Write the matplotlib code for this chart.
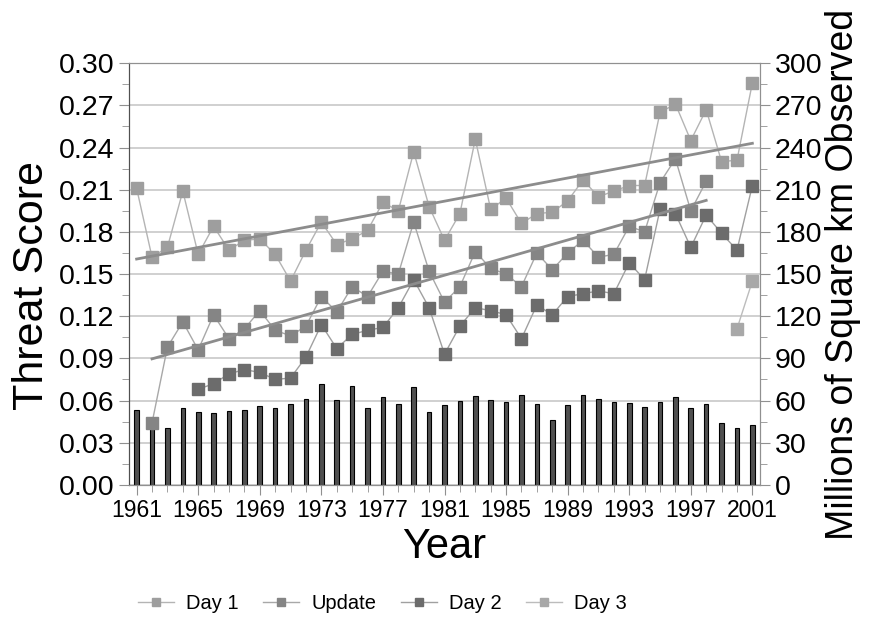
import matplotlib.pyplot as plt
import numpy as np
from matplotlib.ticker import MultipleLocator

plt.rcParams['font.family'] = ['Liberation Sans', 'DejaVu Sans']

# Data
years = np.arange(1961, 2002)

day1 = [0.211, 0.162, 0.169, 0.209, 0.164, 0.184, 0.167, 0.174, 0.175, 0.164,
        0.145, 0.167, 0.187, 0.171, 0.175, 0.181, 0.201, 0.195, 0.237, 0.198,
        0.174, 0.193, 0.246, 0.196, 0.204, 0.186, 0.193, 0.194, 0.202, 0.217,
        0.205, 0.209, 0.213, 0.213, 0.265, 0.271, 0.245, 0.267, 0.230, 0.231,
        0.286]

update_years = np.arange(1962, 1999)
update = [0.044, 0.098, 0.116, 0.096, 0.121, 0.104, 0.111, 0.124, 0.110, 0.106,
          0.113, 0.134, 0.123, 0.141, 0.134, 0.152, 0.150, 0.187, 0.152, 0.130,
          0.141, 0.166, 0.154, 0.150, 0.141, 0.165, 0.153, 0.165, 0.174, 0.162,
          0.164, 0.184, 0.180, 0.215, 0.232, 0.195, 0.216]

day2_years = np.arange(1965, 2002)
day2 = [0.068, 0.072, 0.079, 0.082, 0.080, 0.075, 0.076, 0.091, 0.114, 0.097,
        0.107, 0.110, 0.112, 0.126, 0.146, 0.126, 0.093, 0.113, 0.126, 0.124,
        0.121, 0.104, 0.128, 0.121, 0.134, 0.136, 0.138, 0.136, 0.158, 0.146,
        0.196, 0.193, 0.169, 0.192, 0.179, 0.167, 0.213]

day3_years = [2000, 2001]
day3 = [0.111, 0.145]

# millions of square km observed
area = [53.3, 47.4, 40.7, 54.7, 51.9, 51.2, 52.6, 53.3, 56.2, 54.7,
        57.6, 60.9, 71.6, 60.4, 70.4, 54.7, 62.6, 57.8, 69.7, 51.9,
        57.1, 59.7, 63.3, 60.4, 59.0, 64.0, 57.8, 46.2, 56.9, 63.8,
        60.9, 59.0, 58.1, 55.5, 59.0, 62.3, 54.7, 57.6, 44.1, 40.5,
        42.7]

fig = plt.figure(figsize=(8.75, 6.2), dpi=100)
ax2 = fig.add_axes([0.147, 0.218, 0.722, 0.680])
ax = ax2.twinx()
ax.yaxis.tick_left()
ax.yaxis.set_label_position('left')
ax2.yaxis.tick_right()
ax2.yaxis.set_label_position('right')

# bars and grid on the back axes
ax2.bar(years, area, width=0.3, color='#505050', edgecolor='black', linewidth=0.8, zorder=2)
ax2.set_ylim(0, 300)
ax2.yaxis.set_major_locator(MultipleLocator(30))
ax2.yaxis.set_minor_locator(MultipleLocator(15))
ax2.grid(axis='y', color='#c8c8c8', linewidth=1.2, zorder=0)
ax2.set_axisbelow(True)
ax2.set_ylabel('Millions of Square km Observed', fontsize=27)
ax2.yaxis.set_label_coords(1.103, 0.5)

# series
ax.plot(years, day1, color='#b4b4b4', lw=1, marker='s', ms=8,
        mfc='#9e9e9e', mec='#9e9e9e', label='Day 1', zorder=3)
ax.plot(update_years, update, color='#a8a8a8', lw=1, marker='s', ms=8,
        mfc='#858585', mec='#858585', label='Update', zorder=3)
ax.plot(day2_years, day2, color='#a0a0a0', lw=1, marker='s', ms=8,
        mfc='#6c6c6c', mec='#6c6c6c', label='Day 2', zorder=3)
ax.plot(day3_years, day3, color='#bcbcbc', lw=1, marker='s', ms=8,
        mfc='#a8a8a8', mec='#a8a8a8', label='Day 3', zorder=3)

# linear trend lines
p1 = np.polyfit(years, day1, 1)
ax.plot(years, np.polyval(p1, years), color='#8c8c8c', lw=2, zorder=4)
pu = np.polyfit(update_years, update, 1)
ax.plot(update_years, np.polyval(pu, update_years), color='#8c8c8c', lw=2, zorder=4)

ax.set_ylim(0, 0.30)
ax.yaxis.set_major_locator(MultipleLocator(0.03))
ax.yaxis.set_minor_locator(MultipleLocator(0.015))
ax.yaxis.set_major_formatter(plt.FormatStrFormatter('%.2f'))
ax.set_ylabel('Threat Score', fontsize=31)
ax.yaxis.set_label_coords(-0.121, 0.474)

ax2.set_xlim(1960.48, 2001.52)
ax2.set_xticks(np.arange(1961, 2002, 4))
ax2.xaxis.set_minor_locator(MultipleLocator(1))
ax2.set_xlabel('Year', fontsize=30)
ax2.xaxis.set_label_coords(0.5, -0.1)

for a in (ax, ax2):
    a.tick_params(which='both', colors='#909090', labelcolor='black', labelsize=20.5)
    a.tick_params(which='major', length=7)
    a.tick_params(which='minor', length=5)
    for s in a.spines.values():
        s.set_color('#909090')
    a.spines['left'].set_color('#505050')
ax2.tick_params(axis='x', labelsize=16.5, pad=3)

handles, labels = ax.get_legend_handles_labels()
fig.legend(handles[:4], labels[:4], loc='center', bbox_to_anchor=(0.437, 0.026),
           ncol=4, frameon=False, fontsize=14.5, handlelength=1.8, columnspacing=1.2,
           handletextpad=0.6, markerscale=0.75)

plt.savefig('out.png', dpi=100)
